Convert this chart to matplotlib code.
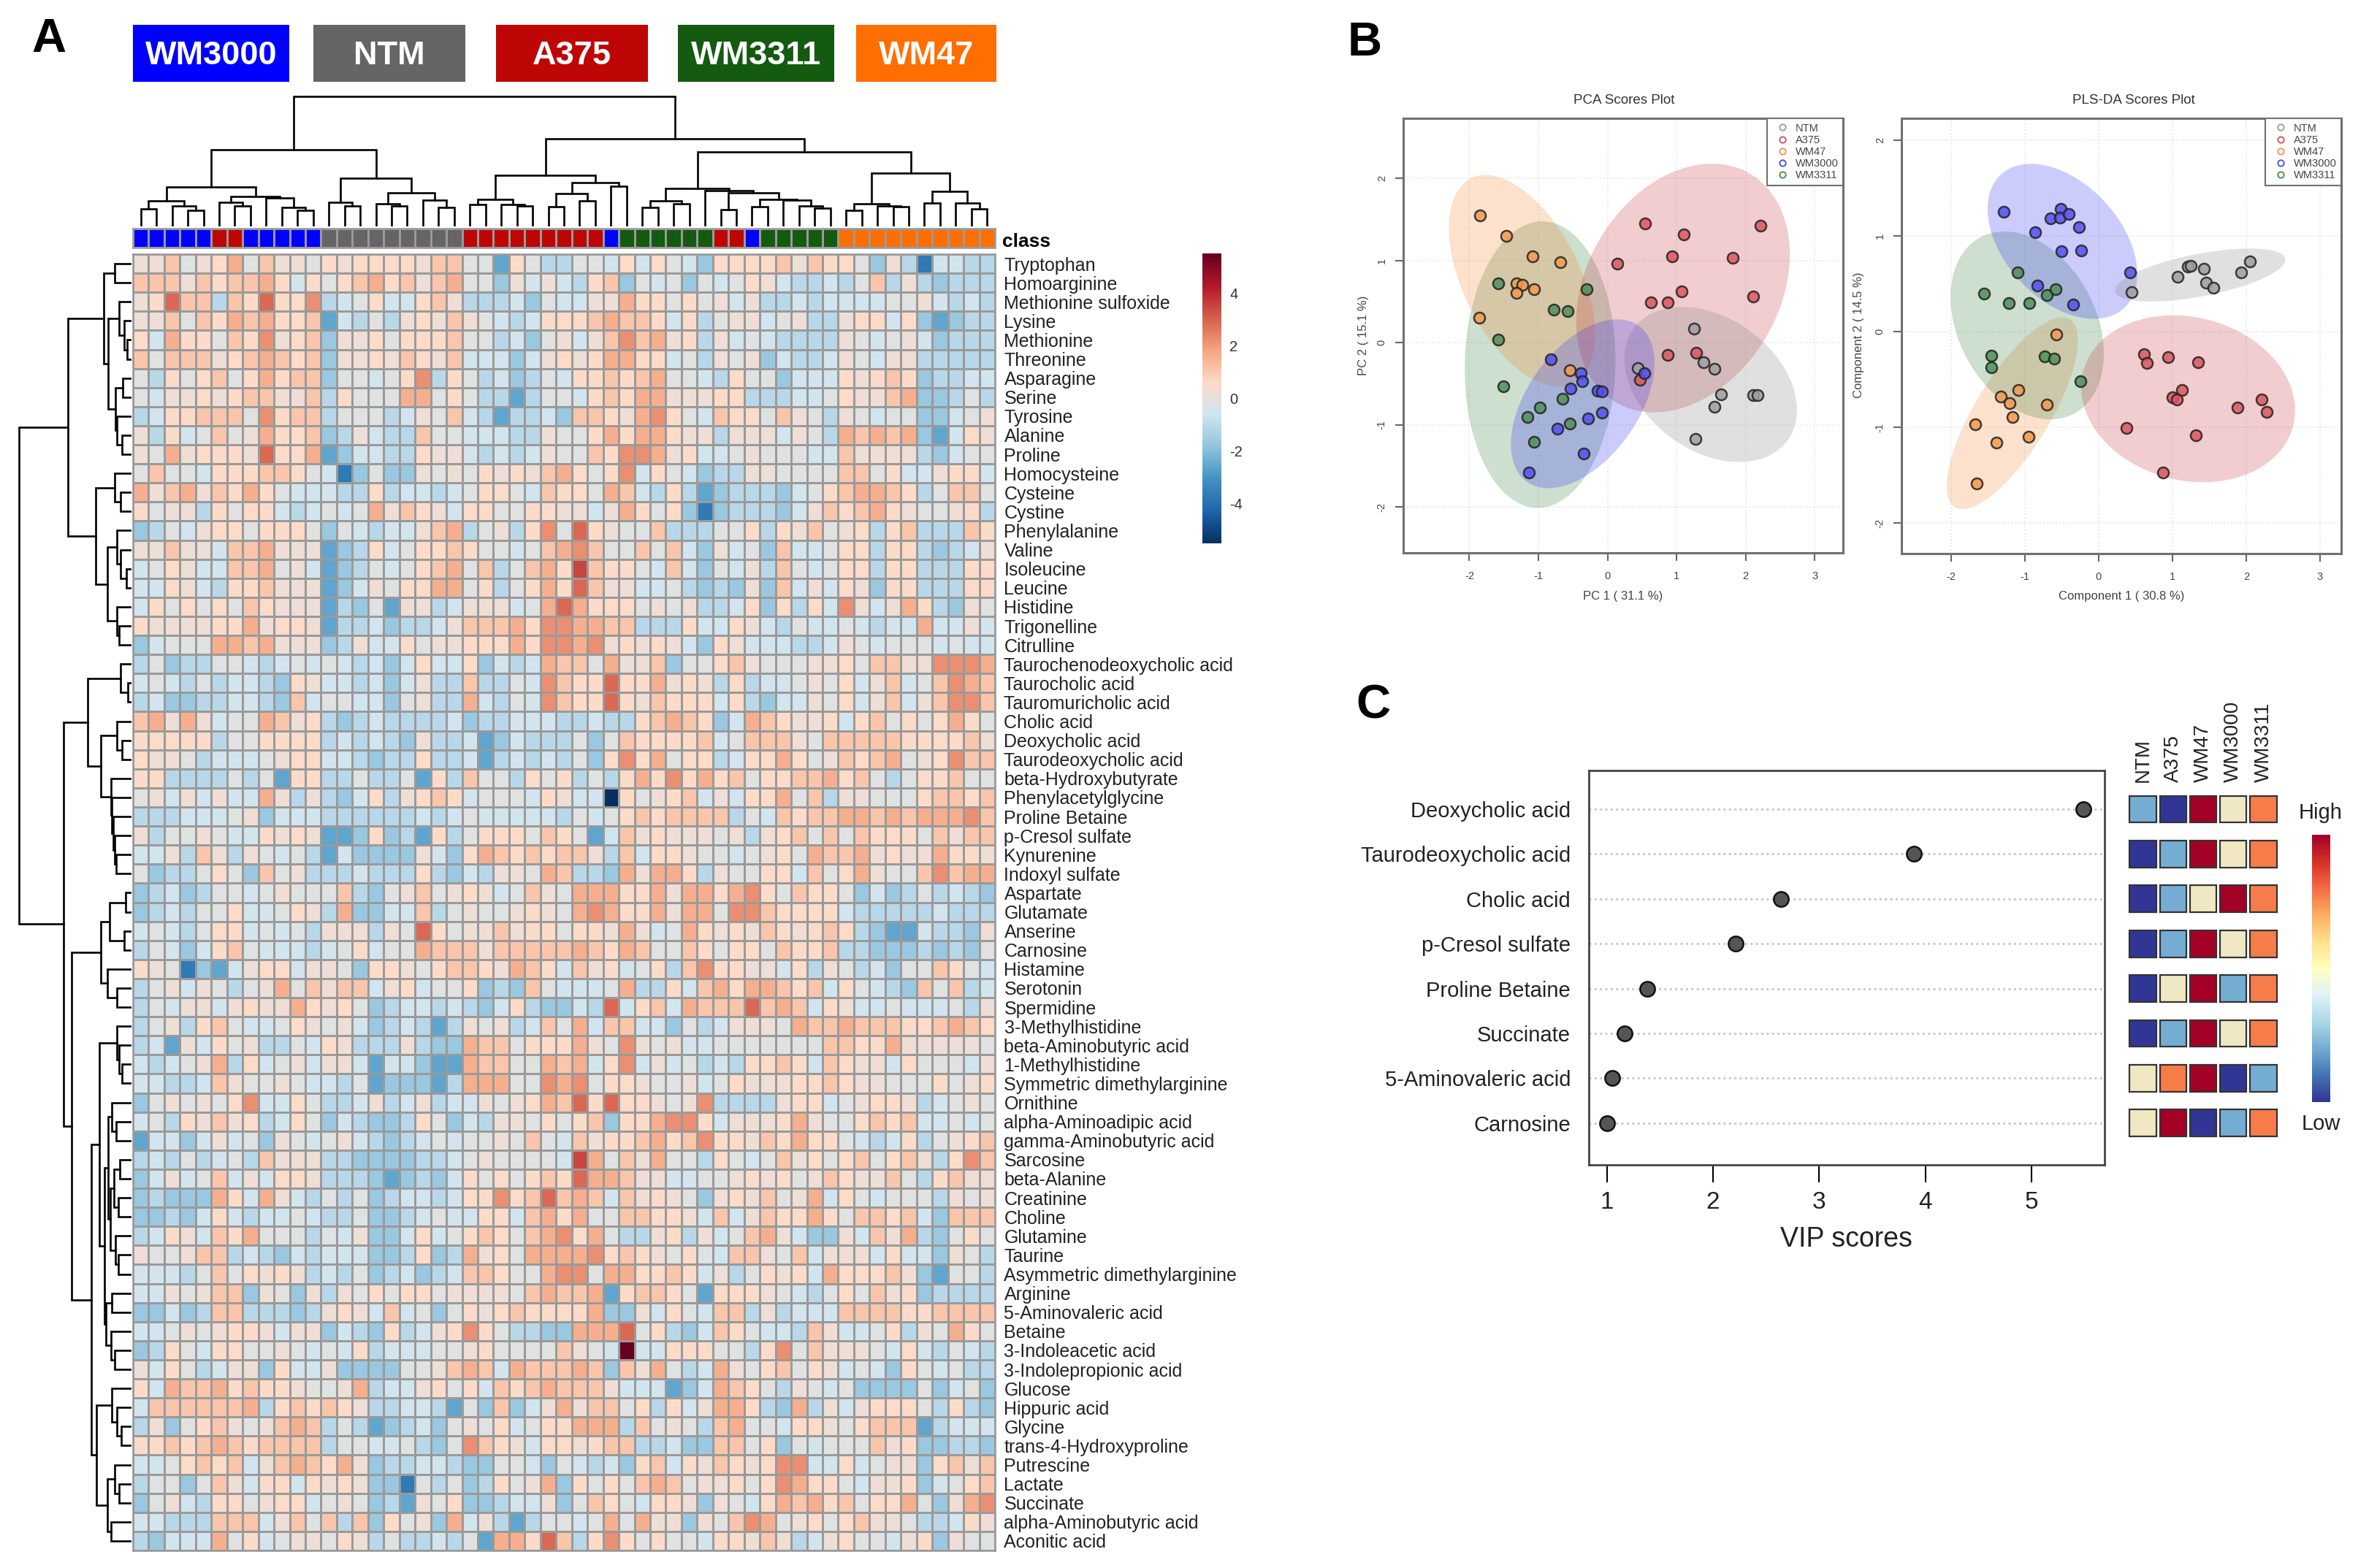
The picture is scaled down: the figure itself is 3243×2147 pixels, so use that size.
import numpy as np
import matplotlib
matplotlib.use("Agg")
import matplotlib.pyplot as plt
from matplotlib.colors import LinearSegmentedColormap, ListedColormap
from matplotlib.lines import Line2D
from matplotlib.patches import Rectangle

plt.rcParams['font.family'] = ['Liberation Sans', 'DejaVu Sans']

W = 3243
H = 2147

# Heatmap: one character per cell, index into level_values
level_values = [-5.5, -3.7, -2.6, -1.7, -1.1, -0.6, -0.2, 0.2, 0.6, 1.1, 1.6, 2.2, 2.9, 3.5, 5.5]

metabolites = [
    "Tryptophan", "Homoarginine", "Methionine sulfoxide", "Lysine", "Methionine", "Threonine", "Asparagine",
    "Serine", "Tyrosine", "Alanine", "Proline", "Homocysteine", "Cysteine", "Cystine", "Phenylalanine", "Valine",
    "Isoleucine", "Leucine", "Histidine", "Trigonelline", "Citrulline", "Taurochenodeoxycholic acid",
    "Taurocholic acid", "Tauromuricholic acid", "Cholic acid", "Deoxycholic acid", "Taurodeoxycholic acid",
    "beta-Hydroxybutyrate", "Phenylacetylglycine", "Proline Betaine", "p-Cresol sulfate", "Kynurenine",
    "Indoxyl sulfate", "Aspartate", "Glutamate", "Anserine", "Carnosine", "Histamine", "Serotonin", "Spermidine",
    "3-Methylhistidine", "beta-Aminobutyric acid", "1-Methylhistidine", "Symmetric dimethylarginine", "Ornithine",
    "alpha-Aminoadipic acid", "gamma-Aminobutyric acid", "Sarcosine", "beta-Alanine", "Creatinine", "Choline",
    "Glutamine", "Taurine", "Asymmetric dimethylarginine", "Arginine", "5-Aminovaleric acid", "Betaine",
    "3-Indoleacetic acid", "3-Indolepropionic acid", "Glucose", "Hippuric acid", "Glycine",
    "trans-4-Hydroxyproline", "Putrescine", "Lactate", "Succinate", "alpha-Aminobutyric acid", "Aconitic acid",
]

heat_rows = [
    "779678a697768788887996628644665" "858653888897988637415544",
    "99979899a858689a8979a6637575489" "365636568754454694743444",
    "78c99498c88b456855897444536557" "7" "a88686757445455556675454",
    "779698a9a889254647879765458889a" "998584677567447885832344",
    "85a88698b789377868889664536757" "9" "b9a784756544447656753444",
    "96999789a989377879879555357878a" "a88564767354457657744444",
    "64868968a899366568b486453465889" "89a665486635558789834455",
    "6577878997" "7948666aa6" "8644246658" "9" "8aa777884445568779a33464",
    "45889996b8" "9946664576" "9542445399" "8" "7ab865988697647656633567",
    "74856967a8" "8934754496" "6555447668" "a" "8aa87747775764a9a9a32587",
    "76a78887c8" "8a23554487" "7545457669" "8" "bba785567666559777743566",
    "6966588899" "8651363376" "7687879a86" "8" "b58653447766669968557885",
    "a79a798a86" "5554484554" "5688659886" "a" "954842344435689aa9846996",
    "8677486885" "45656a7987" "5886688775" "7" "a868313444357989a8766784",
    "3465788688" "8636545579" "a46748b6c8" "7" "669444668487967848944498",
    "77977599a7" "7723485688" "9866569ab9" "6" "696953756395568848843457",
    "56875599a6" "7523465689" "a69469a8d9" "8" "865953657496568848844488",
    "5587548897" "772357688a" "a68468a8c9" "7" "755643437395758738844488",
    "5868686987" "7724362774" "577756aca8" "8" "86767445838485b757a84376",
    "8777788a78" "8724453445" "7999a8bbaa" "9" "9444855875465565455a5575",
    "35666aa9a7" "7734755867" "7888a8bbab" "7" "878753875554457656665655",
    "4634466545" "6565453585" "583545a9" "96a7793668" "9766677869" "977bbba",
    "5654645543" "8755453574" "494465b9" "88c88a7874" "8455676857" "9569ba9",
    "4533445543" "9566553674" "4a5465b9" "88c8798885" "8435576857" "9579bb9",
    "9a7a7566a9" "7843454444" "53445554" "454489a983" "5a98778589" "6868a86",
    "8888846688" "8845454374" "45235444" "6369888895" "6999769999" "9888897",
    "8776455567" "8855434484" "45245454" "638b8a6884" "588a867989" "a678b99",
    "8844446462" "8844644628" "49664868" "4648a8b8a8" "968899a896" "4688966",
    "67575755a7" "4743584789" "85666587" "5508678957" "588a694776" "6689989",
    "4445556735" "5544444454" "56555554" "6568989999" "4659899aa9" "a9aaab9",
    "7466765587" "8722383428" "46888698" "6259787776" "7478969698" "8869799",
    "5574974765" "6425333375" "38a98989" "9749588766" "56786a99a7" "877a887",
    "6344686396" "7444544484" "354776a9" "443a7aa847" "66885968a7" "669b9aa",
    "3453466567" "6669436796" "78756976" "aaa88a7aa8" "ab86988635" "3464543",
    "3454668556" "874a335594" "67667876" "aba88a7aa6" "bb98888544" "4445444",
    "5654688565" "64777476c8" "67797886" "887a756a87" "8798789843" "2254437",
    "4653589655" "54568566a9" "99799999" "a98a966986" "8869889443" "3343436",
    "8761325788" "5776388768" "9987a985" "97856849b8" "8775847645" "3669865",
    "467576467a" "6979957856" "68343965" "556a44859a" "8aa9895865" "4396945",
    "4657757877" "a878634554" "54358433" "54c5895a99" "9c9a958755" "6555647",
    "4674896556" "8767534542" "47674596" "a599553645" "7776a99a99" "9889a98",
    "4527586744" "6587444743" "3a996888" "a76b767556" "6666669988" "a777776",
    "54567a4856" "7577525532" "2a9966a9" "a58b575645" "4889859877" "5866657",
    "5544597667" "6554623332" "4aaa66ba" "b688766756" "8777889877" "6668678",
    "3676768b55" "8644574574" "557678a9" "c8c88767b4" "4447885678" "8745676",
    "5648797845" "8635433486" "35477686" "89388abb85" "7778a76689" "8955656",
    "2553575637" "6567543456" "56676965" "97889a89b8" "8798a88654" "5846789",
    "4546456497" "7744333344" "56766665" "da697a6648" "6569786896" "89748b9",
    "3575695758" "8744432343" "58686898" "caa9775566" "7878679877" "9648977",
    "34333a85a7" "5464634554" "588b89c9" "a959787637" "87967a5865" "6664767",
    "3343585455" "6544633456" "558859a8" "a669988759" "57988a8699" "8953999",
    "4587598a66" "6465733585" "689869ab" "8a64478475" "69a7533759" "7a43686",
    "7667994543" "5455533483" "4a786aaa" "ab89876865" "9976957775" "8553764",
    "5554696878" "7454634534" "599866ab" "b6aa889857" "468785a888" "9732664",
    "5576799376" "3747686886" "777769a9" "9a28998628" "8876546869" "7834444",
    "3353499444" "3478759563" "68789888" "8a33758659" "9474555999" "9889999",
    "5567678875" "7735438457" "8b864433" "aaac684359" "8655497556" "8476a86",
    "3486588667" "6565845556" "67866669" "765e558886" "648b697776" "5854654",
    "7586457738" "5573333667" "9a95a999" "a9397a645a" "7689687565" "3865644",
    "85a99a8988" "7667a45578" "685989a9" "997555235a" "9864765633" "3363563",
    "5999999a48" "9898744554" "2639357a" "799684857a" "a843a47578" "8864843",
    "4736897679" "a946423453" "67685688" "aaa4967649" "a665887689" "9924555",
    "88989a9899" "9946655643" "6b987588" "7899445339" "9683656669" "7833443",
    "5568989579" "a98a734455" "43366536" "5453895879" "878bb55856" "7738979",
    "4663697588" "5878733164" "634867a3" "86869a9677" "868ba88657" "7835689",
    "3675488678" "8567634276" "83345573" "6986588737" "658a9a8968" "8a637ab",
    "5544499957" "9694938673" "a5742466" "56a6a77376" "9ba6786897" "7644587",
    "43555a6856" "7768746445" "462aa8c9" "48b8686658" "8797457866" "5783766",
]

# Sample classes along the top of the heatmap, as (class, run length)
class_runs = [("WM3000", 5), ("A375", 2), ("WM3000", 5), ("NTM", 9), ("A375", 9), ("WM3000", 1), ("WM3311", 6),
              ("A375", 2), ("WM3000", 1), ("WM3311", 5), ("WM47", 10)]
class_colors = {"WM3000": "#0000ff", "NTM": "#666464", "A375": "#bf0606", "WM3311": "#145a10", "WM47": "#ff6e00"}

# Dendrograms: (height, left, right), leaves are column or row numbers
col_tree = (178,
            (105,
             (54,
              (35, (24, 0, 1), (28, 2, (22, 3, 4))),
              (41, (33, 5, (28, 6, 7)), (39, 8, (26, 9, (22, 10, 11))))),
             (66,
              (33, 12, (28, 13, 14)),
              (46, (31, 15, (28, 16, 17)), (36, 18, (26, 19, 20))))),
            (120,
             (70,
              (37, (30, 21, 22), (30, 23, (28, 24, 25))),
              (60, (45, (27, 26, 27), (35, 28, 29)), (55, 30, 31))),
             (102,
              (52,
               (35, (26, 32, 33), (31, 34, 35)),
               (49, 36, (46, (23, 37, 38), (37, (27, 39, 40), (36, 41, (28, 42, (25, 43, 44))))))),
              (73,
               (31, (22, 45, 46), (28, 47, (27, 48, 49))),
               (48, (32, 50, 51), (32, 52, (24, 53, 54)))))))

row_tree = (154,
            (87,
             (38, (23, 0, 1),
              (32, (17, 2, (10, 3, (6, 4, 5))),
               (22, (12, 6, 7), (20, 8, (13, 9, 10))))),
             (49, (23, 11, (15, 12, 13)),
              (33, (20, 14, (15, 15, (7, 16, 17))), (20, 18, (17, 19, 20))))),
            (93,
             (60, (15, 21, (5, 22, 23)),
              (42, (20, 24, (13, 25, 26)),
               (28, 27, (27, 28, (25, 29, (23, 30, (21, 31, 32))))))),
             (82,
              (42, (30, (8, 33, 34), (10, 35, 36)), (33, 37, (20, 38, 39))),
              (55,
               (44, (20, 40, (17, 41, (13, 42, 43))),
                (37, (32, (27, 44, (21, 45, 46)), (29, (24, (16, 47, 48), (18, 49, 50)), (22, 51, (18, 52, 53)))),
                 (35, (27, 54, 55), (28, 56, (23, 57, 58))))),
               (48, (27, 59, (20, 60, (14, 61, 62))),
                (33, (23, 63, (17, 64, 65)), (28, 66, 67)))))))

# Panel B groups
groups = ["NTM", "A375", "WM47", "WM3000", "WM3311"]
group_fill = {"NTM": "#7f7f7f", "A375": "#c8303a", "WM47": "#f5822a", "WM3000": "#2a2af5", "WM3311": "#2f7a3a"}
group_point = {"NTM": "#a0a0a0", "A375": "#dd5560", "WM47": "#f29a4e", "WM3000": "#5252f0", "WM3311": "#4f9058"}

pca_ntm_x = [1.25, 1.39, 1.55, 1.64, 1.55, 1.27, 2.11, 2.17, 0.44]
pca_ntm_y = [0.17, -0.24, -0.32, -0.63, -0.78, -1.17, -0.64, -0.64, -0.31]
pca_a375_x = [0.54, 1.10, 2.22, 0.94, 0.14, 1.81, 1.07, 2.11, 0.63, 0.87, 0.87, 1.28, 0.47]
pca_a375_y = [1.45, 1.32, 1.42, 1.05, 0.96, 1.03, 0.62, 0.56, 0.49, 0.49, -0.15, -0.12, -0.45]
pca_wm47_x = [-1.85, -1.46, -1.08, -0.68, -1.32, -1.23, -1.32, -1.06, -1.86, -0.54]
pca_wm47_y = [1.55, 1.30, 1.05, 0.98, 0.72, 0.70, 0.61, 0.65, 0.30, -0.34]
pca_wm3000_x = [-0.82, -0.39, -0.36, -0.53, -0.14, -0.08, 0.53, -0.08, -0.28, -0.73, -0.34, -1.14]
pca_wm3000_y = [-0.20, -0.37, -0.47, -0.56, -0.58, -0.59, -0.37, -0.85, -0.92, -1.05, -1.35, -1.58]
pca_wm3311_x = [-1.58, -0.30, -0.78, -0.58, -1.58, -1.51, -0.65, -0.98, -1.16, -0.55, -1.06]
pca_wm3311_y = [0.72, 0.65, 0.40, 0.38, 0.04, -0.53, -0.68, -0.79, -0.90, -0.98, -1.21]

pls_ntm_x = [0.45, 1.07, 1.21, 1.25, 1.43, 1.46, 1.56, 1.93, 2.05]
pls_ntm_y = [0.41, 0.57, 0.68, 0.69, 0.66, 0.51, 0.46, 0.62, 0.73]
pls_a375_x = [0.62, 0.65, 0.94, 1.35, 1.13, 1.00, 1.06, 2.21, 1.88, 2.28, 0.38, 1.32, 0.87]
pls_a375_y = [-0.24, -0.33, -0.27, -0.32, -0.61, -0.69, -0.71, -0.71, -0.79, -0.84, -1.01, -1.08, -1.47]
pls_wm47_x = [-0.57, -1.09, -1.32, -1.21, -0.70, -1.17, -1.67, -0.95, -1.38, -1.65]
pls_wm47_y = [-0.03, -0.61, -0.68, -0.75, -0.76, -0.89, -0.97, -1.10, -1.16, -1.59]
pls_wm3000_x = [-1.28, -0.51, -0.65, -0.52, -0.40, -0.27, -0.86, -0.50, -0.24, 0.43, -0.83, -0.34]
pls_wm3000_y = [1.25, 1.28, 1.18, 1.19, 1.23, 1.09, 1.04, 0.84, 0.85, 0.62, 0.48, 0.28]
pls_wm3311_x = [-1.10, -1.55, -1.22, -0.94, -0.70, -0.58, -1.45, -1.45, -0.73, -0.60, -0.25]
pls_wm3311_y = [0.62, 0.40, 0.30, 0.30, 0.38, 0.44, -0.25, -0.37, -0.26, -0.28, -0.52]

# Ellipses: centre x, half width, centre y, half height, correlation
pca_ellipses = {"WM3311": (-0.976, 1.091, -0.267, 1.743, 0.03), "WM47": (-1.238, 1.058, 0.753, 1.287, -0.50),
                "A375": (1.093, 1.546, 0.665, 1.513, 0.27), "NTM": (1.494, 1.249, -0.508, 0.943, -0.33),
                "WM3000": (-0.359, 1.039, -0.743, 1.027, 0.48)}
pls_ellipses = {"WM47": (-1.169, 0.889, -0.854, 1.002, 0.76), "WM3311": (-0.966, 1.038, 0.065, 0.982, -0.30),
                "WM3000": (-0.49, 1.014, 0.943, 0.81, -0.42), "NTM": (1.377, 1.154, 0.591, 0.277, 0.58),
                "A375": (1.213, 1.449, -0.702, 0.872, -0.14)}

# Panel C
vip_names = ["Deoxycholic acid", "Taurodeoxycholic acid", "Cholic acid", "p-Cresol sulfate", "Proline Betaine",
             "Succinate", "5-Aminovaleric acid", "Carnosine"]
vip_scores = [5.49, 3.895, 2.64, 2.21, 1.38, 1.17, 1.05, 1.0]
vip_groups = ["NTM", "A375", "WM47", "WM3000", "WM3311"]
vip_ranks = [
    [2, 1, 5, 3, 4],
    [1, 2, 5, 3, 4],
    [1, 2, 3, 5, 4],
    [1, 2, 5, 3, 4],
    [1, 3, 5, 2, 4],
    [1, 2, 5, 3, 4],
    [3, 4, 5, 1, 2],
    [3, 5, 1, 2, 4],
]
rank_colors = ["#313695", "#74add1", "#f0e8c2", "#f67c4a", "#a50026"]

fig = plt.figure(figsize=(W / 100, H / 100), dpi=100)


def px_axes(x0, y0, x1, y1):
    return fig.add_axes([x0 / W, 1 - y1 / H, (x1 - x0) / W, (y1 - y0) / H])


def fig_text(x, y, s, **kw):
    fig.text(x / W, 1 - y / H, s, **kw)


# Draw a dendrogram, returns position and height of the node
def draw_tree(ax, node, horizontal):
    if not isinstance(node, tuple):
        return node + 0.5, 0
    h, left, right = node
    p1, h1 = draw_tree(ax, left, horizontal)
    p2, h2 = draw_tree(ax, right, horizontal)
    xs = [p1, p1, p2, p2]
    ys = [h1, h, h, h2]
    if horizontal:
        ax.plot(ys, xs, color="black", lw=1.9, solid_joinstyle="miter", solid_capstyle="projecting")
    else:
        ax.plot(xs, ys, color="black", lw=1.9, solid_joinstyle="miter", solid_capstyle="projecting")
    return (p1 + p2) / 2, h


# Panel letters
fig_text(43, 71, "A", fontsize=47, fontweight="bold", ha="left", va="baseline")
fig_text(1845, 76, "B", fontsize=47, fontweight="bold", ha="left", va="baseline")
fig_text(1856, 984, "C", fontsize=47, fontweight="bold", ha="left", va="baseline")

# Class boxes at the top
boxes = [("WM3000", 182, 396), ("NTM", 429, 637), ("A375", 679, 887), ("WM3311", 928, 1142), ("WM47", 1172, 1364)]
bg = fig.add_axes([0, 0, 1, 1], zorder=-1)
bg.set_xlim(0, W)
bg.set_ylim(H, 0)
bg.axis("off")
for name, x0, x1 in boxes:
    bg.add_patch(Rectangle((x0, 34), x1 - x0, 78, color=class_colors[name], lw=0))
    bg.text((x0 + x1) / 2, 76, name, color="white", fontsize=32.5, fontweight="bold", ha="center", va="center")

# Heatmap
rd_bu = LinearSegmentedColormap.from_list("rdbu", ["#053061", "#2166ac", "#4393c3", "#92c5de", "#d1e5f0",
                                                   "#fddbc7", "#f4a582", "#d6604d", "#b2182b", "#67001f"])
bad = [(i, len(r)) for i, r in enumerate(heat_rows) if len(r) != 55]
if bad:
    raise ValueError(str(bad))
heat = np.array([[level_values[int(c, 16)] for c in r] for r in heat_rows])

ax = px_axes(182, 348, 1362, 2123)
ax.pcolormesh(heat, cmap=rd_bu, vmin=-5.5, vmax=5.5, edgecolors="#9a9a9a", linewidth=1.9)
ax.set_xlim(0, 55)
ax.set_ylim(68, 0)
ax.set_xticks([])
ax.yaxis.tick_right()
ax.set_yticks(np.arange(68) + 0.5)
ax.set_yticklabels(metabolites, fontsize=18, color="#222222")
ax.tick_params(axis="y", length=0, pad=9)
for s in ax.spines.values():
    s.set_color("#9a9a9a")
    s.set_linewidth(1.9)

# Class strip
class_seq = []
for name, n in class_runs:
    class_seq += [name] * n
names_list = list(class_colors)
ax_strip = px_axes(182, 313, 1362, 339)
ax_strip.pcolormesh(np.array([[names_list.index(c) for c in class_seq]]),
                    cmap=ListedColormap([class_colors[n] for n in names_list]),
                    edgecolors="#9a9a9a", linewidth=1.9)
ax_strip.set_xlim(0, 55)
ax_strip.set_xticks([])
ax_strip.set_yticks([])
for s in ax_strip.spines.values():
    s.set_color("#9a9a9a")
    s.set_linewidth(1.9)
fig_text(1372, 338, "class", fontsize=19, fontweight="bold", ha="left", va="baseline")

# Dendrograms
ax_top = px_axes(182, 120, 1362, 310)
draw_tree(ax_top, col_tree, False)
ax_top.set_xlim(0, 55)
ax_top.set_ylim(0, 190)
ax_top.axis("off")

ax_left = px_axes(15, 348, 180, 2123)
draw_tree(ax_left, row_tree, True)
ax_left.set_xlim(165, 0)
ax_left.set_ylim(68, 0)
ax_left.axis("off")

# Heatmap colour key
ax_key = px_axes(1646, 347, 1672, 744)
ax_key.imshow(np.linspace(5.5, -5.5, 256).reshape(-1, 1), cmap=rd_bu, vmin=-5.5, vmax=5.5, aspect="auto",
              extent=[0, 1, -5.5, 5.5])
ax_key.set_xticks([])
ax_key.yaxis.tick_right()
ax_key.set_yticks([4, 2, 0, -2, -4])
ax_key.set_yticklabels(["4", "2", "0", "-2", "-4"], fontsize=14.5, color="#333333")
ax_key.tick_params(axis="y", length=0, pad=8)
for s in ax_key.spines.values():
    s.set_visible(False)


def scores_panel(box, xlim, ylim, xticks, yticks, points, ellipses, title, xlabel, ylabel, title_x, xlabel_x,
                 ylabel_x, yticklabel_pad):
    a = px_axes(*box)
    a.set_xlim(*xlim)
    a.set_ylim(*ylim)
    a.set_xticks(xticks)
    a.set_yticks(yticks)
    a.set_xticklabels([str(t) for t in xticks], fontsize=10.5, color="#444444")
    a.set_yticklabels([str(t) for t in yticks], fontsize=10.5, color="#444444", rotation=90, va="center")
    a.tick_params(axis="x", length=8, width=1.5, color="#666666", pad=10)
    a.tick_params(axis="y", length=8, width=1.5, color="#666666", pad=yticklabel_pad)
    a.grid(True, color="#e4e4e4", linestyle=":", linewidth=1.2)
    a.set_axisbelow(True)
    for s in a.spines.values():
        s.set_color("#707070")
        s.set_linewidth(2.2)
    t = np.linspace(0, 2 * np.pi, 200)
    for g, (cx, sx, cy, sy, rho) in ellipses.items():
        a.fill(cx + sx * np.cos(t), cy + sy * np.cos(t - np.arccos(rho)), color=group_fill[g], alpha=0.24, lw=0)
    for g in groups:
        xs, ys = points[g]
        a.scatter(xs, ys, s=118, color=group_point[g], edgecolors="#222222", linewidths=1.8, alpha=0.85, zorder=3)
    handles = [Line2D([], [], linestyle="none", marker="o", markersize=6, markerfacecolor="none",
                      markeredgecolor=group_point[g], markeredgewidth=1.4, label=g) for g in groups]
    leg = a.legend(handles=handles, loc="upper right", fontsize=10.5, frameon=True, fancybox=False, framealpha=1,
                   edgecolor="#707070", borderaxespad=0, labelspacing=0.15, handletextpad=0.2, borderpad=0.45,
                   labelcolor="#444444")
    leg.get_frame().set_linewidth(1.5)
    fig_text(title_x, 138, title, fontsize=13.5, color="#333333", ha="center", va="center")
    fig_text(xlabel_x, 816, xlabel, fontsize=12, color="#444444", ha="center", va="center")
    fig_text(ylabel_x, 459, ylabel, fontsize=12, color="#444444", ha="center", va="center", rotation=90)


scores_panel((1921, 162, 2523, 757), (-2.956, 3.41), (-2.557, 2.73), [-2, -1, 0, 1, 2, 3], [-2, -1, 0, 1, 2],
             {"NTM": (pca_ntm_x, pca_ntm_y), "A375": (pca_a375_x, pca_a375_y), "WM47": (pca_wm47_x, pca_wm47_y),
              "WM3000": (pca_wm3000_x, pca_wm3000_y), "WM3311": (pca_wm3311_x, pca_wm3311_y)},
             pca_ellipses, "PCA Scores Plot", "PC 1 ( 31.1 %)", "PC 2 ( 15.1 %)", 2223, 2222, 1867, 8)
scores_panel((2603, 162, 3205, 758), (-2.67, 3.287), (-2.32, 2.229), [-2, -1, 0, 1, 2, 3], [-2, -1, 0, 1, 2],
             {"NTM": (pls_ntm_x, pls_ntm_y), "A375": (pls_a375_x, pls_a375_y), "WM47": (pls_wm47_x, pls_wm47_y),
              "WM3000": (pls_wm3000_x, pls_wm3000_y), "WM3311": (pls_wm3311_x, pls_wm3311_y)},
             pls_ellipses, "PLS-DA Scores Plot", "Component 1 ( 30.8 %)", "Component 2 ( 14.5 %)", 2921, 2904, 2545, 8)

# Panel C, VIP scores
y_pos = np.arange(len(vip_names), 0, -1)
ax_vip = px_axes(2175, 1054.5, 2880.6, 1595)
ax_vip.set_xlim(0.83, 5.685)
ax_vip.set_ylim(0.07, 8.87)
ax_vip.hlines(y_pos, 0.83, 5.685, color="#c4c4c4", linestyle=":", linewidth=2)
ax_vip.scatter(vip_scores, y_pos, s=215, color="#555555", edgecolors="#111111", linewidths=1.8, zorder=3)
ax_vip.set_xticks([1, 2, 3, 4, 5])
ax_vip.set_xticklabels(["1", "2", "3", "4", "5"], fontsize=24, color="#222222")
ax_vip.set_yticks(y_pos)
ax_vip.set_yticklabels(vip_names, fontsize=21, color="#222222")
ax_vip.tick_params(axis="x", length=17, width=1.5, pad=9)
ax_vip.tick_params(axis="y", length=0, pad=18)
for s in ax_vip.spines.values():
    s.set_color("#444444")
    s.set_linewidth(2)
ax_vip.set_xlabel("VIP scores", fontsize=27, color="#222222", labelpad=12)

ax_sq = px_axes(2913, 1054.5, 3115, 1595)
ax_sq.set_xlim(-0.06, 4.84)
ax_sq.set_ylim(0.07, 8.87)
ax_sq.axis("off")
for i, ranks in enumerate(vip_ranks):
    for j, rank in enumerate(ranks):
        ax_sq.add_patch(Rectangle((j, y_pos[i] - 0.3), 0.88, 0.6, facecolor=rank_colors[rank - 1],
                                  edgecolor="#333333", linewidth=1.6, clip_on=False))
for j, name in enumerate(vip_groups):
    ax_sq.text(j + 0.44, 8.6, name, rotation=90, fontsize=20, color="#222222", ha="center", va="bottom",
               clip_on=False)

ax_bar = px_axes(3165, 1143, 3190, 1509)
ax_bar.imshow(np.linspace(1, 0, 256).reshape(-1, 1), cmap="RdYlBu_r", aspect="auto")
ax_bar.axis("off")
fig_text(3177, 1113, "High", fontsize=21, color="#222222", ha="center", va="center")
fig_text(3177, 1539, "Low", fontsize=21, color="#222222", ha="center", va="center")

fig.savefig("out.png", dpi=100)
